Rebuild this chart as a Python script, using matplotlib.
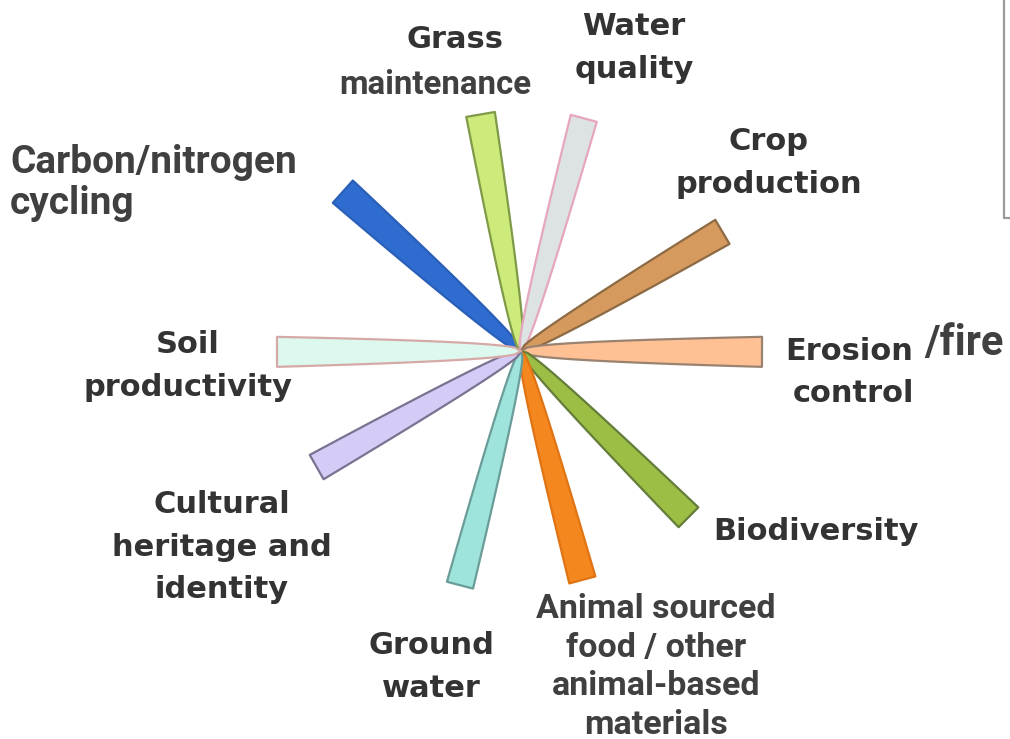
import numpy as np
import matplotlib
matplotlib.use("Agg")
import matplotlib.pyplot as plt

# petals: direction (deg, ccw from east), length (px), tip width (px)
services = ["Carbon/nitrogen cycling", "Grass maintenance", "Water quality",
            "Crop production", "Erosion/fire control", "Biodiversity",
            "Animal sourced food", "Ground water", "Cultural heritage",
            "Soil productivity"]
angles = [138.2, 99.7, 74.9, 30.6, -0.2, -44.8, -75.0, -104.6, 209.6, 180.2]
lengths = [239, 240, 241, 234, 241, 236, 237, 242, 235, 244]
tip_w = [30, 29, 27, 28, 30, 28, 27, 27, 28, 30]
fills = ["#2f6ccf", "#cdeb7a", "#dde3e3", "#d6995e", "#ffc194",
         "#9dbe44", "#f5871f", "#9ee3dc", "#d4ccf6", "#ddf8ee"]
edges = ["#2a5fb8", "#7f9a48", "#e6a6bf", "#8c6a44", "#9a8270",
         "#647d3a", "#e07414", "#6a9c98", "#7a7290", "#d6a9a9"]

W, H = 1010, 739
cx, cy = 521, 351
R = 260

fig = plt.figure(figsize=(W / 100, H / 100), dpi=100)
fig.patch.set_facecolor("white")

pax = fig.add_axes([(cx - R) / W, (H - cy - R) / H, 2 * R / W, 2 * R / H],
                   projection="polar", zorder=0)

s = np.linspace(0, 1, 40)
for a, L, w, fc, ec in zip(angles, lengths, tip_w, fills, edges):
    r = s * L
    hw = 0.5 * w * s ** 0.4
    rr = np.hypot(r, hw)
    off = np.arctan2(hw, np.maximum(r, 1e-9))
    th = np.concatenate([np.deg2rad(a) + off, (np.deg2rad(a) - off)[::-1]])
    rs = np.concatenate([rr, rr[::-1]])
    pax.fill(th, rs, facecolor=fc, edgecolor=ec, linewidth=1.6,
             joinstyle="round")
pax.set_ylim(0, R)
pax.axis("off")

ax = fig.add_axes([0, 0, 1, 1], zorder=1)
ax.set_xlim(0, W)
ax.set_ylim(H, 0)
ax.axis("off")
ax.patch.set_alpha(0)

# frame corner of a box at the top right
ax.plot([1004, 1004, 1010], [0, 218, 218], color="#9a9a9a", lw=1.6)

soft = dict(family="DejaVu Sans", fontweight="bold", color="#333333",
            fontsize=22, ha="center", va="center", linespacing=1.57)
sharp = dict(family=["Roboto", "Liberation Sans"], fontweight="bold",
             color="#404040", ha="center", va="center")

ax.text(455, 40, "Grass", **soft)
ax.text(435, 85, "maintenance", fontsize=23.8, **sharp)
ax.text(634, 48, "Water\nquality", **soft)
ax.text(769, 163, "Crop\nproduction", **soft)
ax.text(849, 352, "Erosion", **soft)
ax.text(853, 393, "control", **soft)
ax.text(964, 343, "/fire", fontsize=30, **sharp)
ax.text(816, 532, "Biodiversity", **soft)
ax.text(188, 366, "Soil\nproductivity", **soft)
ax.text(222, 547, "Cultural\nheritage and\nidentity", **soft)
ax.text(431, 667, "Ground\nwater", **soft)
ax.text(656, 667, "Animal sourced\nfood / other\nanimal-based\nmaterials",
        fontsize=24.5, linespacing=1.26, **sharp)
ax.text(10, 183, "Carbon/nitrogen\ncycling", fontsize=28, linespacing=1.14,
        family=["Roboto", "Liberation Sans"], fontweight="bold",
        color="#404040", ha="left", va="center")

fig.savefig("out.png", dpi=100, facecolor="white")
